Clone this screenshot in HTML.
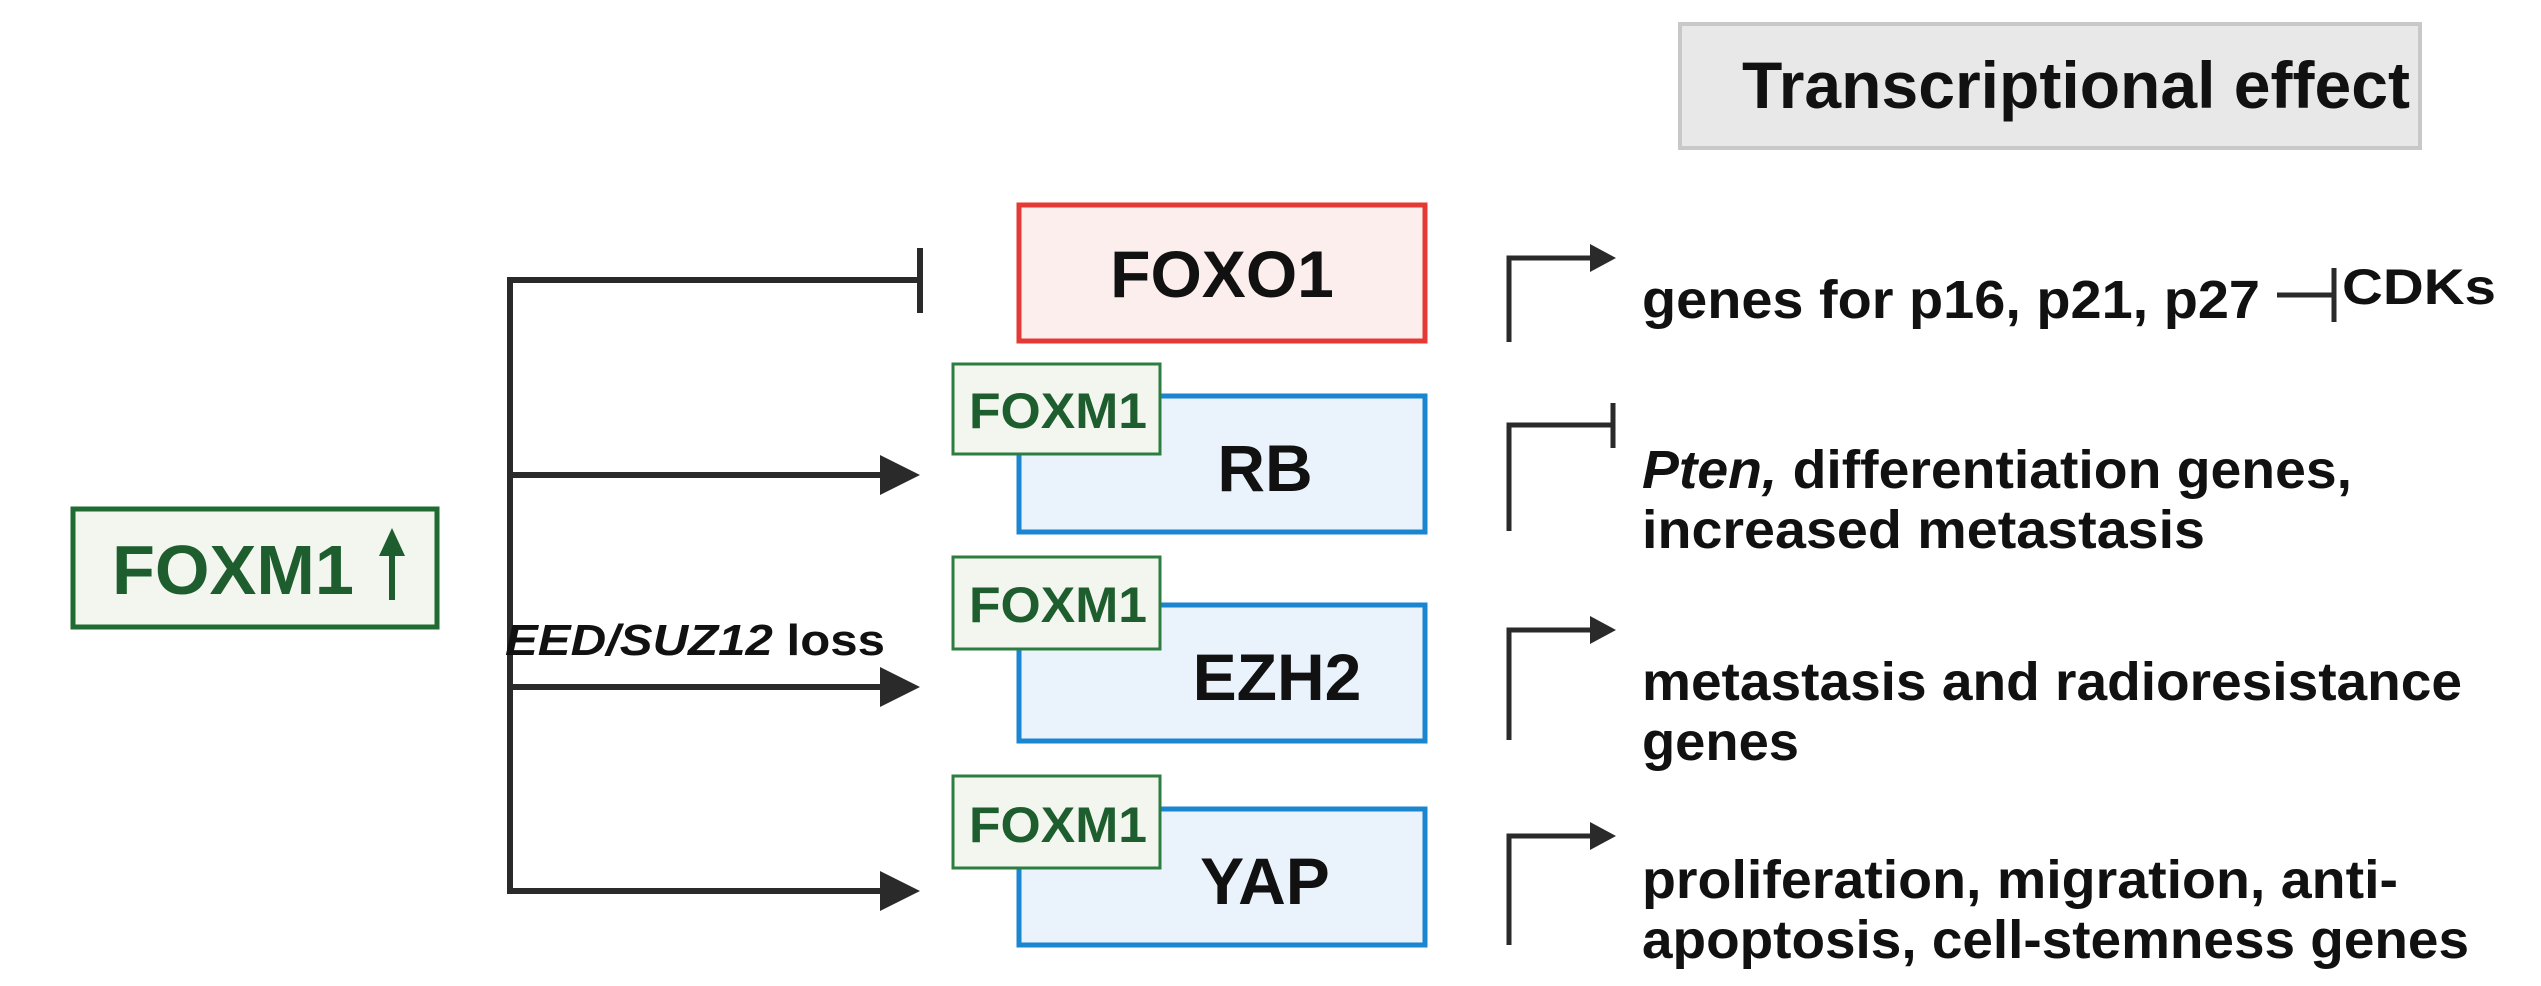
<!DOCTYPE html>
<html><head><meta charset="utf-8"><style>
html,body{margin:0;padding:0;background:#fff;}
svg{display:block;}
text{font-family:"Liberation Sans",sans-serif;font-weight:bold;}
</style></head><body>
<svg width="2541" height="986" viewBox="0 0 2541 986" xmlns="http://www.w3.org/2000/svg">
<!-- Title box -->
<rect x="1680" y="24" width="740" height="124" fill="#e8e8e8" stroke="#c8c8c8" stroke-width="4"/>
<text x="1742" y="108" font-size="66" textLength="668" lengthAdjust="spacingAndGlyphs" fill="#111">Transcriptional effect</text>

<!-- main FOXM1 -->
<rect x="73" y="509" width="364" height="118" fill="#f2f6ee" stroke="#1f6b32" stroke-width="5"/>
<text x="112" y="594" font-size="70" textLength="242" lengthAdjust="spacingAndGlyphs" fill="#1e5e2e">FOXM1</text>
<line x1="392" y1="600" x2="392" y2="550" stroke="#1e5e2e" stroke-width="6"/>
<polygon points="379,556 405,556 392,528" fill="#1e5e2e"/>

<!-- connector tree -->
<g stroke="#2a2a2a" stroke-width="6" fill="none">
<line x1="510" y1="280" x2="510" y2="893"/>
<line x1="507" y1="280" x2="920" y2="280"/>
<line x1="920" y1="248" x2="920" y2="313"/>
<line x1="507" y1="475" x2="885" y2="475"/>
<line x1="507" y1="687" x2="885" y2="687"/>
<line x1="507" y1="891" x2="885" y2="891"/>
</g>
<g fill="#2a2a2a">
<polygon points="880,455 920,475 880,495"/>
<polygon points="880,667 920,687 880,707"/>
<polygon points="880,871 920,891 880,911"/>
</g>
<text x="505" y="655" font-size="44" textLength="380" lengthAdjust="spacingAndGlyphs" fill="#111"><tspan font-style="italic">EED/SUZ12</tspan> loss</text>

<!-- FOXO1 -->
<rect x="1019" y="205" width="406" height="136" fill="#fdeeee" stroke="#e53935" stroke-width="5"/>
<text x="1222" y="297" font-size="66" text-anchor="middle" fill="#111">FOXO1</text>

<!-- RB -->
<rect x="1019" y="396" width="406" height="136" fill="#eaf3fc" stroke="#1a86d0" stroke-width="5"/>
<text x="1265" y="491" font-size="66" text-anchor="middle" fill="#111">RB</text>
<rect x="953" y="364" width="207" height="90" fill="#f2f6ee" stroke="#2e7d40" stroke-width="3"/>
<text x="1058" y="428" font-size="50" text-anchor="middle" textLength="178" lengthAdjust="spacingAndGlyphs" fill="#1e5e2e">FOXM1</text>

<!-- EZH2 -->
<rect x="1019" y="605" width="406" height="136" fill="#eaf3fc" stroke="#1a86d0" stroke-width="5"/>
<text x="1277" y="700" font-size="66" text-anchor="middle" fill="#111">EZH2</text>
<rect x="953" y="557" width="207" height="92" fill="#f2f6ee" stroke="#2e7d40" stroke-width="3"/>
<text x="1058" y="622" font-size="50" text-anchor="middle" textLength="178" lengthAdjust="spacingAndGlyphs" fill="#1e5e2e">FOXM1</text>

<!-- YAP -->
<rect x="1019" y="809" width="406" height="136" fill="#eaf3fc" stroke="#1a86d0" stroke-width="5"/>
<text x="1265" y="904" font-size="66" text-anchor="middle" fill="#111">YAP</text>
<rect x="953" y="776" width="207" height="92" fill="#f2f6ee" stroke="#2e7d40" stroke-width="3"/>
<text x="1058" y="842" font-size="50" text-anchor="middle" textLength="178" lengthAdjust="spacingAndGlyphs" fill="#1e5e2e">FOXM1</text>

<!-- promoters -->
<g stroke="#2a2a2a" stroke-width="5" fill="none">
<polyline points="1509,342 1509,258 1598,258"/>
<polyline points="1509,531 1509,425 1613,425"/>
<line x1="1613" y1="403" x2="1613" y2="448"/>
<polyline points="1509,740 1509,630 1598,630"/>
<polyline points="1509,945 1509,836 1598,836"/>
<line x1="2277" y1="295" x2="2334" y2="295"/>
<line x1="2334" y1="268" x2="2334" y2="322"/>
</g>
<g fill="#2a2a2a">
<polygon points="1590,244 1616,258 1590,272"/>
<polygon points="1590,616 1616,630 1590,644"/>
<polygon points="1590,822 1616,836 1590,850"/>
</g>
<g font-size="54" fill="#111">
<text x="1642" y="318" textLength="618" lengthAdjust="spacingAndGlyphs">genes for p16, p21, p27</text>
<text x="2342" y="304" font-size="50" textLength="154" lengthAdjust="spacingAndGlyphs">CDKs</text>
<text x="1642" y="488" textLength="710" lengthAdjust="spacingAndGlyphs"><tspan font-style="italic">Pten,</tspan> differentiation genes,</text>
<text x="1642" y="548" textLength="563" lengthAdjust="spacingAndGlyphs">increased metastasis</text>
<text x="1642" y="700" textLength="820" lengthAdjust="spacingAndGlyphs">metastasis and radioresistance</text>
<text x="1642" y="760" textLength="157" lengthAdjust="spacingAndGlyphs">genes</text>
<text x="1642" y="898" textLength="756" lengthAdjust="spacingAndGlyphs">proliferation, migration, anti-</text>
<text x="1642" y="958" textLength="827" lengthAdjust="spacingAndGlyphs">apoptosis, cell-stemness genes</text>
</g>
</svg>
</body></html>
